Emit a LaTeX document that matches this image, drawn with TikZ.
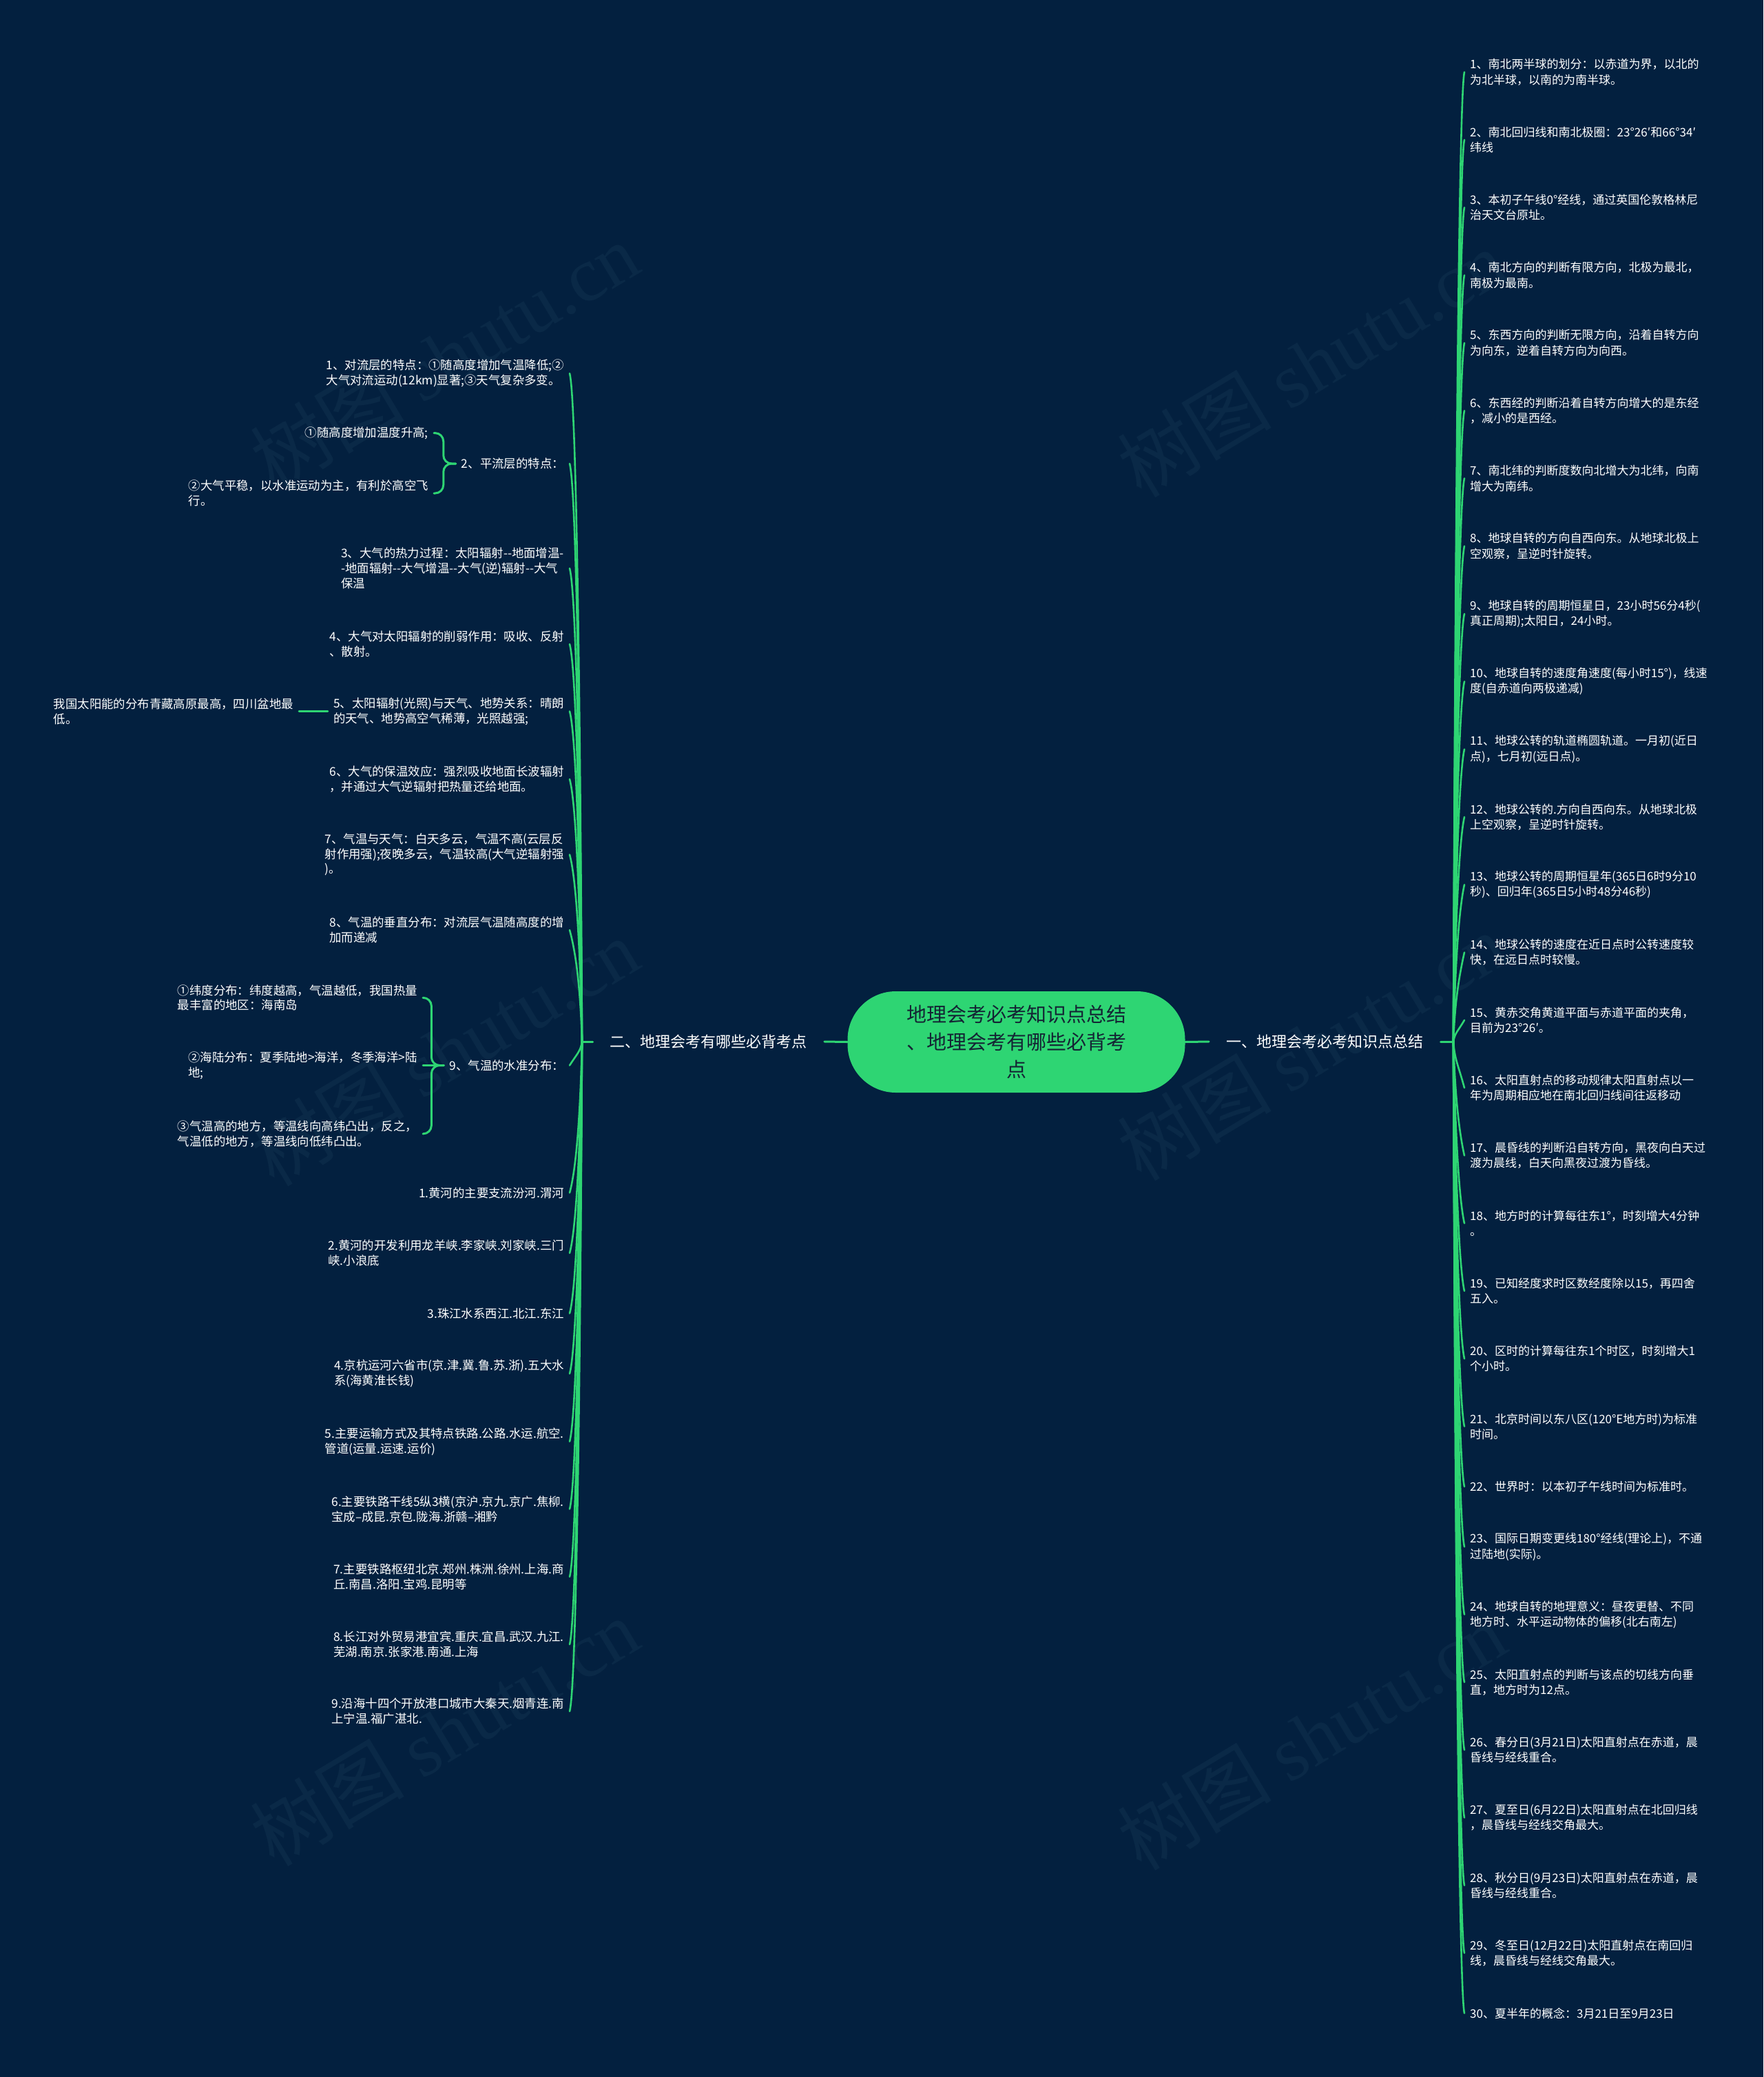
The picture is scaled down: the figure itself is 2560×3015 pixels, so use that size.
\documentclass[tikz,border=0pt]{standalone}
\usepackage{fontspec}
\setmainfont{Noto Sans CJK SC}
\newfontfamily\wmlatin{Liberation Serif}
\definecolor{bg}{HTML}{03203F}
\definecolor{grn}{HTML}{2ED573}
\definecolor{ctxt}{HTML}{142434}
\definecolor{wmc}{HTML}{0A2947}
\def\mkR#1#2{\expandafter\def\csname rt#1\endcsname{#2}}
\def\mkL#1#2{\expandafter\def\csname lt#1\endcsname{#2}}
\mkR{1}{1、南北两半球的划分：以赤道为界，以北的\\为北半球，以南的为南半球。}
\mkR{2}{2、南北回归线和南北极圈：23°26′和66°34′\\纬线}
\mkR{3}{3、本初子午线0°经线，通过英国伦敦格林尼\\治天文台原址。}
\mkR{4}{4、南北方向的判断有限方向，北极为最北，\\南极为最南。}
\mkR{5}{5、东西方向的判断无限方向，沿着自转方向\\为向东，逆着自转方向为向西。}
\mkR{6}{6、东西经的判断沿着自转方向增大的是东经\\，减小的是西经。}
\mkR{7}{7、南北纬的判断度数向北增大为北纬，向南\\增大为南纬。}
\mkR{8}{8、地球自转的方向自西向东。从地球北极上\\空观察，呈逆时针旋转。}
\mkR{9}{9、地球自转的周期恒星日，23小时56分4秒(\\真正周期);太阳日，24小时。}
\mkR{10}{10、地球自转的速度角速度(每小时15°)，线速\\度(自赤道向两极递减)}
\mkR{11}{11、地球公转的轨道椭圆轨道。一月初(近日\\点)，七月初(远日点)。}
\mkR{12}{12、地球公转的.方向自西向东。从地球北极\\上空观察，呈逆时针旋转。}
\mkR{13}{13、地球公转的周期恒星年(365日6时9分10\\秒)、回归年(365日5小时48分46秒)}
\mkR{14}{14、地球公转的速度在近日点时公转速度较\\快，在远日点时较慢。}
\mkR{15}{15、黄赤交角黄道平面与赤道平面的夹角，\\目前为23°26′。}
\mkR{16}{16、太阳直射点的移动规律太阳直射点以一\\年为周期相应地在南北回归线间往返移动}
\mkR{17}{17、晨昏线的判断沿自转方向，黑夜向白天过\\渡为晨线，白天向黑夜过渡为昏线。}
\mkR{18}{18、地方时的计算每往东1°，时刻增大4分钟\\。}
\mkR{19}{19、已知经度求时区数经度除以15，再四舍\\五入。}
\mkR{20}{20、区时的计算每往东1个时区，时刻增大1\\个小时。}
\mkR{21}{21、北京时间以东八区(120°E地方时)为标准\\时间。}
\mkR{22}{22、世界时：以本初子午线时间为标准时。}
\mkR{23}{23、国际日期变更线180°经线(理论上)，不通\\过陆地(实际)。}
\mkR{24}{24、地球自转的地理意义：昼夜更替、不同\\地方时、水平运动物体的偏移(北右南左)}
\mkR{25}{25、太阳直射点的判断与该点的切线方向垂\\直，地方时为12点。}
\mkR{26}{26、春分日(3月21日)太阳直射点在赤道，晨\\昏线与经线重合。}
\mkR{27}{27、夏至日(6月22日)太阳直射点在北回归线\\，晨昏线与经线交角最大。}
\mkR{28}{28、秋分日(9月23日)太阳直射点在赤道，晨\\昏线与经线重合。}
\mkR{29}{29、冬至日(12月22日)太阳直射点在南回归\\线，晨昏线与经线交角最大。}
\mkR{30}{30、夏半年的概念：3月21日至9月23日}
\mkL{1}{1、对流层的特点：①随高度增加气温降低;②\\大气对流运动(12km)显著;③天气复杂多变。}
\mkL{2}{2、平流层的特点：}
\mkL{3}{3、大气的热力过程：太阳辐射-{}-地面增温-\\-地面辐射-{}-大气增温-{}-大气(逆)辐射-{}-大气\\保温}
\mkL{4}{4、大气对太阳辐射的削弱作用：吸收、反射\\、散射。}
\mkL{5}{5、太阳辐射(光照)与天气、地势关系：晴朗\\的天气、地势高空气稀薄，光照越强;}
\mkL{6}{6、大气的保温效应：强烈吸收地面长波辐射\\，并通过大气逆辐射把热量还给地面。}
\mkL{7}{7、气温与天气：白天多云，气温不高(云层反\\射作用强);夜晚多云，气温较高(大气逆辐射强\\)。}
\mkL{8}{8、气温的垂直分布：对流层气温随高度的增\\加而递减}
\mkL{9}{9、气温的水准分布：}
\mkL{10}{1.黄河的主要支流汾河.渭河}
\mkL{11}{2.黄河的开发利用龙羊峡.李家峡.刘家峡.三门\\峡.小浪底}
\mkL{12}{3.珠江水系西江.北江.东江}
\mkL{13}{4.京杭运河六省市(京.津.冀.鲁.苏.浙).五大水\\系(海黄淮长钱)}
\mkL{14}{5.主要运输方式及其特点铁路.公路.水运.航空.\\管道(运量.运速.运价)}
\mkL{15}{6.主要铁路干线5纵3横(京沪.京九.京广.焦柳.\\宝成–成昆.京包.陇海.浙赣–湘黔}
\mkL{16}{7.主要铁路枢纽北京.郑州.株洲.徐州.上海.商\\丘.南昌.洛阳.宝鸡.昆明等}
\mkL{17}{8.长江对外贸易港宜宾.重庆.宜昌.武汉.九江.\\芜湖.南京.张家港.南通.上海}
\mkL{18}{9.沿海十四个开放港口城市大秦天.烟青连.南\\上宁温.福广湛北.}
\begin{document}
\begin{tikzpicture}[x=1pt,y=-1pt,
  link/.style={draw=grn, line width=2.6pt, line cap=round},
  leafR/.style={anchor=west, text=white, inner xsep=8pt, inner ysep=2pt, align=left, font=\fontsize{17}{22.3}\selectfont},
  leafL/.style={anchor=east, text=white, inner xsep=8pt, inner ysep=2pt, align=left, font=\fontsize{17.4}{21.8}\selectfont},
  branch/.style={text=white, inner xsep=25pt, inner ysep=4pt, font=\fontsize{22}{26}\selectfont},
  centernode/.style={fill=grn, text=ctxt, rounded corners=70pt, minimum width=490pt, minimum height=147pt, align=center, inner sep=0pt, font=\fontsize{29}{40}\selectfont},
  wm/.style={text=wmc, font=\fontsize{112}{118}\selectfont, rotate=31, inner sep=0pt}
]
\fill[bg] (0,0) rectangle (2560,3015);
\useasboundingbox (0,0) rectangle (2560,3015);
% watermarks
\node[wm] (wm1) at (645,517) {树图 {\wmlatin shutu.cn}};
\node[wm] (wm2) at (1904,527) {树图 {\wmlatin shutu.cn}};
\node[wm] (wm3) at (645,1527) {树图 {\wmlatin shutu.cn}};
\node[wm] (wm4) at (1904,1519) {树图 {\wmlatin shutu.cn}};
\node[wm] (wm5) at (645,2514) {树图 {\wmlatin shutu.cn}};
\node[wm] (wm6) at (1904,2520) {树图 {\wmlatin shutu.cn}};
% center and branches
\node[centernode] (c) at (1475.5,1512.5) {地理会考必考知识点总结\\、地理会考有哪些必背考\\点};
\node[branch] (bR) at (1923.3,1512) {一、地理会考必考知识点总结};
\node[branch] (bL) at (1028.7,1512) {二、地理会考有哪些必背考点};
\coordinate (PR) at (2110,1512);
\coordinate (PL) at (845,1512);
\draw[link, line width=3pt] (c.east) -- (bR.west);
\draw[link, line width=3pt] (bR.east) -- (PR);
\draw[link, line width=3pt] (c.west) -- (bL.east);
\draw[link, line width=3pt] (bL.west) -- (PL);
% right leaves
\foreach \i/\y in {1/104.6,2/202.9,3/301.2,4/399.5,5/497.8,6/596.1,7/694.4,8/792.7,9/891.0,10/989.3,11/1087.6,12/1185.9,13/1284.2,14/1382.5,15/1480.8,16/1579.1,17/1677.4,18/1775.7,19/1874.0,20/1972.3,21/2070.6,22/2158,23/2245.3,24/2343.6,25/2441.9,26/2540.2,27/2638.5,28/2736.8,29/2835.1,30/2922.4}{
  \node[leafR] (r\i) at (2126,\y) {\csname rt\i\endcsname};
  \pgfmathsetmacro\dd{1512-\y}
  \pgfmathsetmacro\ca{\y+0.6*\dd}
  \pgfmathsetmacro\hk{\y+ifthenelse(\dd>0,1,-1)*min(40,abs(\dd)/2)}
  \draw[link] (PR) .. controls (2112,\ca) and (2117,\hk) .. (r\i.west);
}
% left leaves
\foreach \i/\y in {1/542,2/673,3/825,4/935,5/1032.5,6/1131,7/1240.5,8/1350,9/1546.5,10/1731.5,11/1819,12/1906.5,13/1994,14/2092.5,15/2190.5,16/2288.8,17/2387,18/2484.2}{
  \node[leafL] (l\i) at (827,\y) {\csname lt\i\endcsname};
  \pgfmathsetmacro\dd{1512-\y}
  \pgfmathsetmacro\ca{\y+0.6*\dd}
  \pgfmathsetmacro\hk{\y+ifthenelse(\dd>0,1,-1)*min(40,abs(\dd)/2)}
  \draw[link] (PL) .. controls (843,\ca) and (838,\hk) .. (l\i.east);
}
% sub-items of left 2
\node[leafL] (l2a) at (630,628.6) {①随高度增加温度升高;};
\node[leafL] (l2b) at (630,716) {②大气平稳，以水准运动为主，有利於高空飞\\行。};
\draw[link, line width=3pt, rounded corners=12pt] (l2.west) -- ++(-18,0) |- (l2a.east);
\draw[link, line width=3pt, rounded corners=12pt] (l2.west) -- ++(-18,0) |- (l2b.east);
% sub-item of left 5
\node[leafL] (l5a) at (434,1032.5) {我国太阳能的分布青藏高原最高，四川盆地最\\低。};
\draw[link, line width=3pt] (l5a.east) -- (l5.west);
% sub-items of left 9
\node[leafL] (l9a) at (614,1448.3) {①纬度分布：纬度越高，气温越低，我国热量\\最丰富的地区：海南岛};
\node[leafL] (l9b) at (614,1546.5) {②海陆分布：夏季陆地>海洋，冬季海洋>陆\\地;};
\node[leafL] (l9c) at (614,1645.8) {③气温高的地方，等温线向高纬凸出，反之，\\气温低的地方，等温线向低纬凸出。};
\draw[link, line width=3pt, rounded corners=12pt] (l9.west) -- ++(-18,0) |- (l9a.east);
\draw[link, line width=3pt] (l9.west) -- (l9b.east);
\draw[link, line width=3pt, rounded corners=12pt] (l9.west) -- ++(-18,0) |- (l9c.east);
\end{tikzpicture}
\end{document}
